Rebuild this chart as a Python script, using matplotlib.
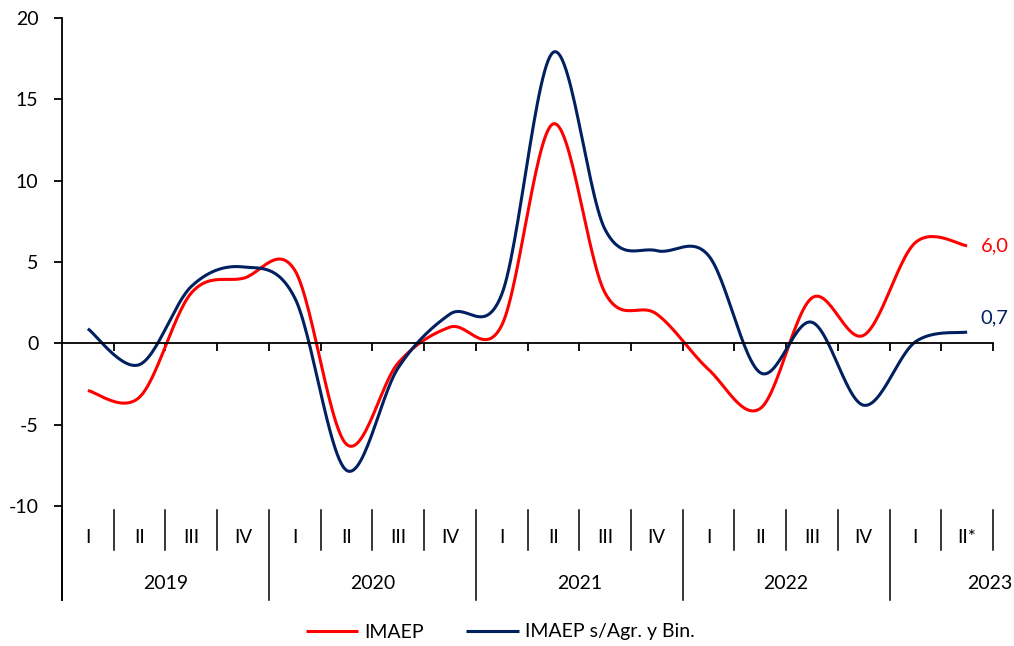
import numpy as np
import matplotlib
matplotlib.use('Agg')
import matplotlib.pyplot as plt

plt.rcParams['font.family'] = ['Lato', 'DejaVu Sans']
plt.rcParams['axes.unicode_minus'] = False

### data ###
years = ['2019', '2020', '2021', '2022', '2023']
quarters = ['I', 'II', 'III', 'IV'] * 4 + ['I', 'II*']
imaep = [-2.9, -3.3, 3.1, 4.0, 4.5, -6.2, -1.2, 1.0, 1.1, 13.5, 3.1, 1.8, -1.6, -4.0, 2.8, 0.5, 6.2, 6.0]
imaep_sab = [0.9, -1.3, 3.5, 4.7, 2.8, -7.8, -1.5, 1.8, 3.0, 17.9, 7.0, 5.7, 5.4, -1.8, 1.3, -3.8, 0.1, 0.7]

red = '#FF0000'
navy = '#002060'


def smooth(x, y, n=30):
    # Excel-like smoothed line (Catmull-Rom through the points as cubic Bezier)
    x = np.asarray(x, float)
    y = np.asarray(y, float)
    px = np.concatenate([[x[0]], x, [x[-1]]])
    py = np.concatenate([[y[0]], y, [y[-1]]])
    xs, ys = [], []
    t = np.linspace(0, 1, n)
    for i in range(1, len(px) - 2):
        p0 = np.array([px[i], py[i]])
        p3 = np.array([px[i + 1], py[i + 1]])
        c1 = p0 + (np.array([px[i + 1], py[i + 1]]) - np.array([px[i - 1], py[i - 1]])) / 6
        c2 = p3 - (np.array([px[i + 2], py[i + 2]]) - np.array([px[i], py[i]])) / 6
        pts = ((1 - t) ** 3)[:, None] * p0 + (3 * (1 - t) ** 2 * t)[:, None] * c1 \
            + (3 * (1 - t) * t ** 2)[:, None] * c2 + (t ** 3)[:, None] * p3
        xs.extend(pts[:, 0])
        ys.extend(pts[:, 1])
    return np.array(xs), np.array(ys)


x = np.arange(len(imaep)) + 0.5

fig = plt.figure(figsize=(10.14, 6.46), dpi=100)
ax = fig.add_axes([62 / 1014, 1 - 600 / 646, 931 / 1014, 582 / 646])

sx, sy = smooth(x, imaep)
ax.plot(sx, sy, color=red, lw=2.2, label='IMAEP', solid_capstyle='butt')
sx, sy = smooth(x, imaep_sab)
ax.plot(sx, sy, color=navy, lw=2.2, label='IMAEP s/Agr. y Bin.', solid_capstyle='butt')

ax.set_xlim(0, len(imaep))
ax.set_ylim(-15.77, 20)

for s in ['top', 'right']:
    ax.spines[s].set_visible(False)
ax.spines['left'].set_linewidth(1.3)
ax.spines['bottom'].set_position(('data', 0))
ax.spines['bottom'].set_linewidth(1.3)

ax.set_yticks(np.arange(-10, 21, 5))
ax.tick_params(axis='y', direction='out', length=6, width=1.3, labelsize=14, pad=11)
ax.set_xticks(np.arange(1, len(imaep) + 1))
ax.set_xticklabels([])
ax.tick_params(axis='x', direction='out', length=6, width=1.3)

# category labels under the plot
for i, q in enumerate(quarters):
    ax.text(i + 0.5, -11.9, q, ha='center', va='center', fontsize=13.5)
for k in range(1, len(imaep) + 1):
    bottom = -15.77 if k % 4 == 0 else -12.7
    ax.plot([k, k], [-10.26, bottom], color='black', lw=1.1, clip_on=False)
ax.plot([0, 0], [-10.26, -15.77], color='black', lw=1.1, clip_on=False)
for j, yr in enumerate(years):
    xc = 4 * j + 2 if j < 4 else 17.93
    ax.text(xc, -14.75, yr, ha='center', va='center', fontsize=14)

ax.text(17.76, imaep[-1], '6,0', color=red, ha='left', va='center', fontsize=14.5)
ax.text(17.76, 1.55, '0,7', color=navy, ha='left', va='center', fontsize=14.5)

fig.legend(loc='center', bbox_to_anchor=(500 / 1014, 1 - 632 / 646), ncol=2, frameon=False,
           fontsize=14, handlelength=2.7, handletextpad=0.3, columnspacing=2.2)

fig.savefig('out.png', dpi=100)
